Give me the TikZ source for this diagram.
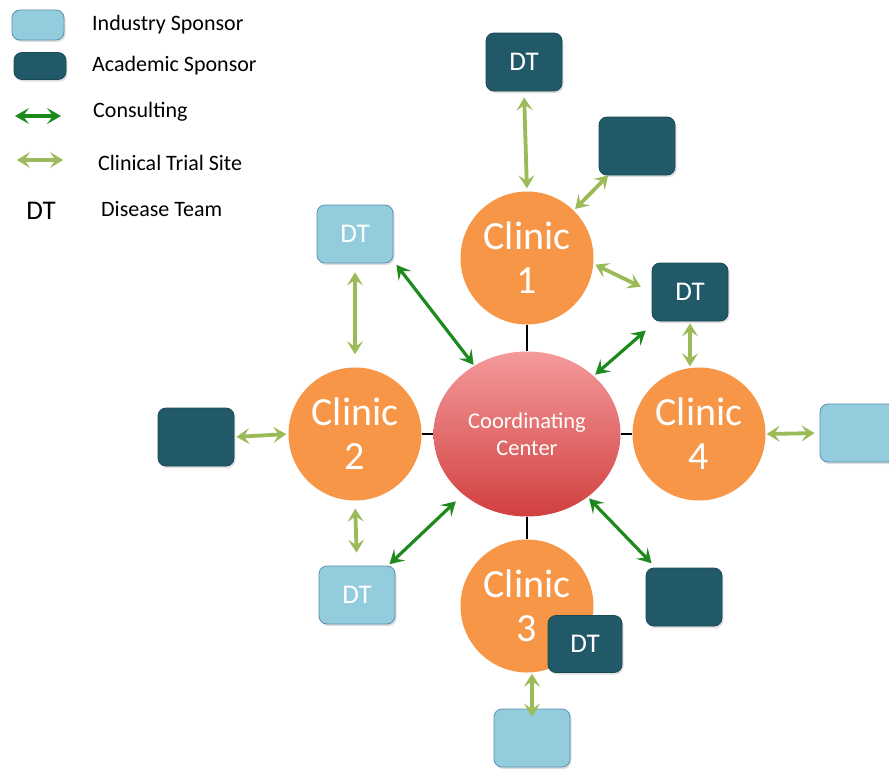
\documentclass[tikz,border=0pt]{standalone}
\usepackage{fontspec}
\setmainfont{Carlito}
\usetikzlibrary{arrows.meta,shadows,shapes.geometric}
\definecolor{clinicorange}{HTML}{F79646}
\definecolor{darkbox}{HTML}{215968}
\definecolor{darkboxline}{HTML}{1A4A57}
\definecolor{lightbox}{HTML}{93CDDD}
\definecolor{lightboxline}{HTML}{5B8FB0}
\definecolor{consultgreen}{HTML}{1E8A1E}
\definecolor{trialgreen}{HTML}{9BBB59}
\definecolor{cctop}{HTML}{F49A9C}
\definecolor{ccbot}{HTML}{D1403F}
\tikzset{
  clinic/.style={circle, fill=clinicorange, minimum size=133pt, inner sep=0pt, text=white, align=center, font=\fontsize{40}{44}\selectfont},
  boxbase/.style={rounded corners=8pt, minimum width=76pt, minimum height=58pt, inner sep=0pt, line width=0.8pt,
    drop shadow={opacity=0.25, shadow xshift=1.5pt, shadow yshift=-2pt}, font=\fontsize{27}{30}\selectfont},
  darkbx/.style={boxbase, fill=darkbox, draw=darkboxline, text=white},
  lightbx/.style={boxbase, fill=lightbox, draw=lightboxline, text=white},
  consult/.style={draw=consultgreen, line width=3.2pt, {Stealth[length=14pt,width=16pt,inset=6pt]}-{Stealth[length=14pt,width=16pt,inset=6pt]}},
  trial/.style={draw=trialgreen, line width=3.8pt, {Stealth[length=13pt,width=16pt,inset=5.5pt]}-{Stealth[length=13pt,width=16pt,inset=5.5pt]}},
  legtext/.style={anchor=west, inner sep=0pt, font=\fontsize{22}{24}\selectfont, text=black},
  link/.style={draw=black, line width=2.4pt}
}
\begin{document}
\begin{tikzpicture}[x=1pt,y=-1pt]
\clip (0,0) rectangle (889,771);
\fill[white] (0,0) rectangle (889,771);

% legend
\node[lightbx, minimum width=52pt, minimum height=30pt] (legi) at (38,25) {};
\node[darkbx, minimum width=52pt, minimum height=27pt] (lega) at (40,66) {};
\node[legtext] (legit) at (92,25) {Industry Sponsor};
\node[legtext] (legat) at (92,66) {Academic Sponsor};
\coordinate (lc1) at (15,116);
\coordinate (lc2) at (61,116);
\draw[consult] (lc1) -- (lc2);
\node[legtext] (legct) at (93,112) {Consulting};
\coordinate (lt1) at (17,160);
\coordinate (lt2) at (63,160);
\draw[trial] (lt1) -- (lt2);
\node[legtext] (legtt) at (98,163) {Clinical Trial Site};
\node[inner sep=0pt, font=\fontsize{27}{30}\selectfont] (legdt) at (41,211) {DT};
\node[legtext] (legdtt) at (101,209) {Disease Team};

% centre and clinics
\node[ellipse, minimum width=187pt, minimum height=165pt, inner sep=0pt, top color=cctop, bottom color=ccbot, middle color=cctop!50!ccbot,
  text=white, align=center, font=\fontsize{22.5}{27}\selectfont] (cc) at (527,434) {Coordinating\\Center};
\node[clinic] (c1) at (527,258) {Clinic\\1};
\node[clinic] (c2) at (355,434) {Clinic\\2};
\node[clinic] (c4) at (699,434) {Clinic\\4};
\node[clinic] (c3) at (527,606) {Clinic\\3};

\draw[link] (c1.south) -- (cc.north);
\draw[link] (c3.north) -- (cc.south);
\draw[link] (c2.east) -- (cc.west);
\draw[link] (c4.west) -- (cc.east);

% boxes
\node[darkbx] (dttop) at (524,62) {DT};
\node[darkbx] (atr) at (637,146) {};
\node[darkbx] (dtr) at (690,292) {DT};
\node[lightbx] (ir) at (858,433) {};
\node[darkbx] (abr) at (684,597) {};
\node[darkbx, minimum width=74pt, minimum height=57pt] (dtc3) at (585,644) {DT};
\node[lightbx] (ib) at (532,738) {};
\node[lightbx] (dtbl) at (357,595) {DT};
\node[darkbx] (al) at (196,437) {};
\node[lightbx] (dttl) at (355,234) {DT};

% clinical trial site arrows
\draw[trial, shorten <=6pt, shorten >=3pt] (dttop.south) -- (c1.north);
\draw[trial, shorten <=0pt, shorten >=2pt] (atr) -- (c1);
\draw[trial, shorten <=2pt, shorten >=12pt] (c1.-5) -- (dtr.west);
\draw[trial, shorten <=2pt, shorten >=1pt] (dtr.south) -- (dtr.south |- c4.north);
\draw[trial, shorten <=1pt, shorten >=5pt] (c4.east) -- (ir.west);
\draw[trial, shorten <=1pt, shorten >=-8pt] (ib.north |- c3.south) -- (ib.north);
\draw[trial, shorten <=2pt, shorten >=2pt] (al.east) -- (c2.west);
\draw[trial, shorten <=13pt, shorten >=9pt] (c2.north) -- (dttl.south);
\draw[trial, shorten <=8pt, shorten >=13pt] (c2.south) -- (dtbl.north);

% consulting arrows
\draw[consult, shorten <=5pt, shorten >=1pt] (dttl.-35) -- (cc);
\draw[consult, shorten <=14pt, shorten >=2pt] (dtr) -- (cc);
\draw[consult, shorten <=2pt, shorten >=6pt] (cc) -- (abr);
\draw[consult, shorten <=10pt, shorten >=2pt] (cc) -- (dtbl);
\end{tikzpicture}
\end{document}
